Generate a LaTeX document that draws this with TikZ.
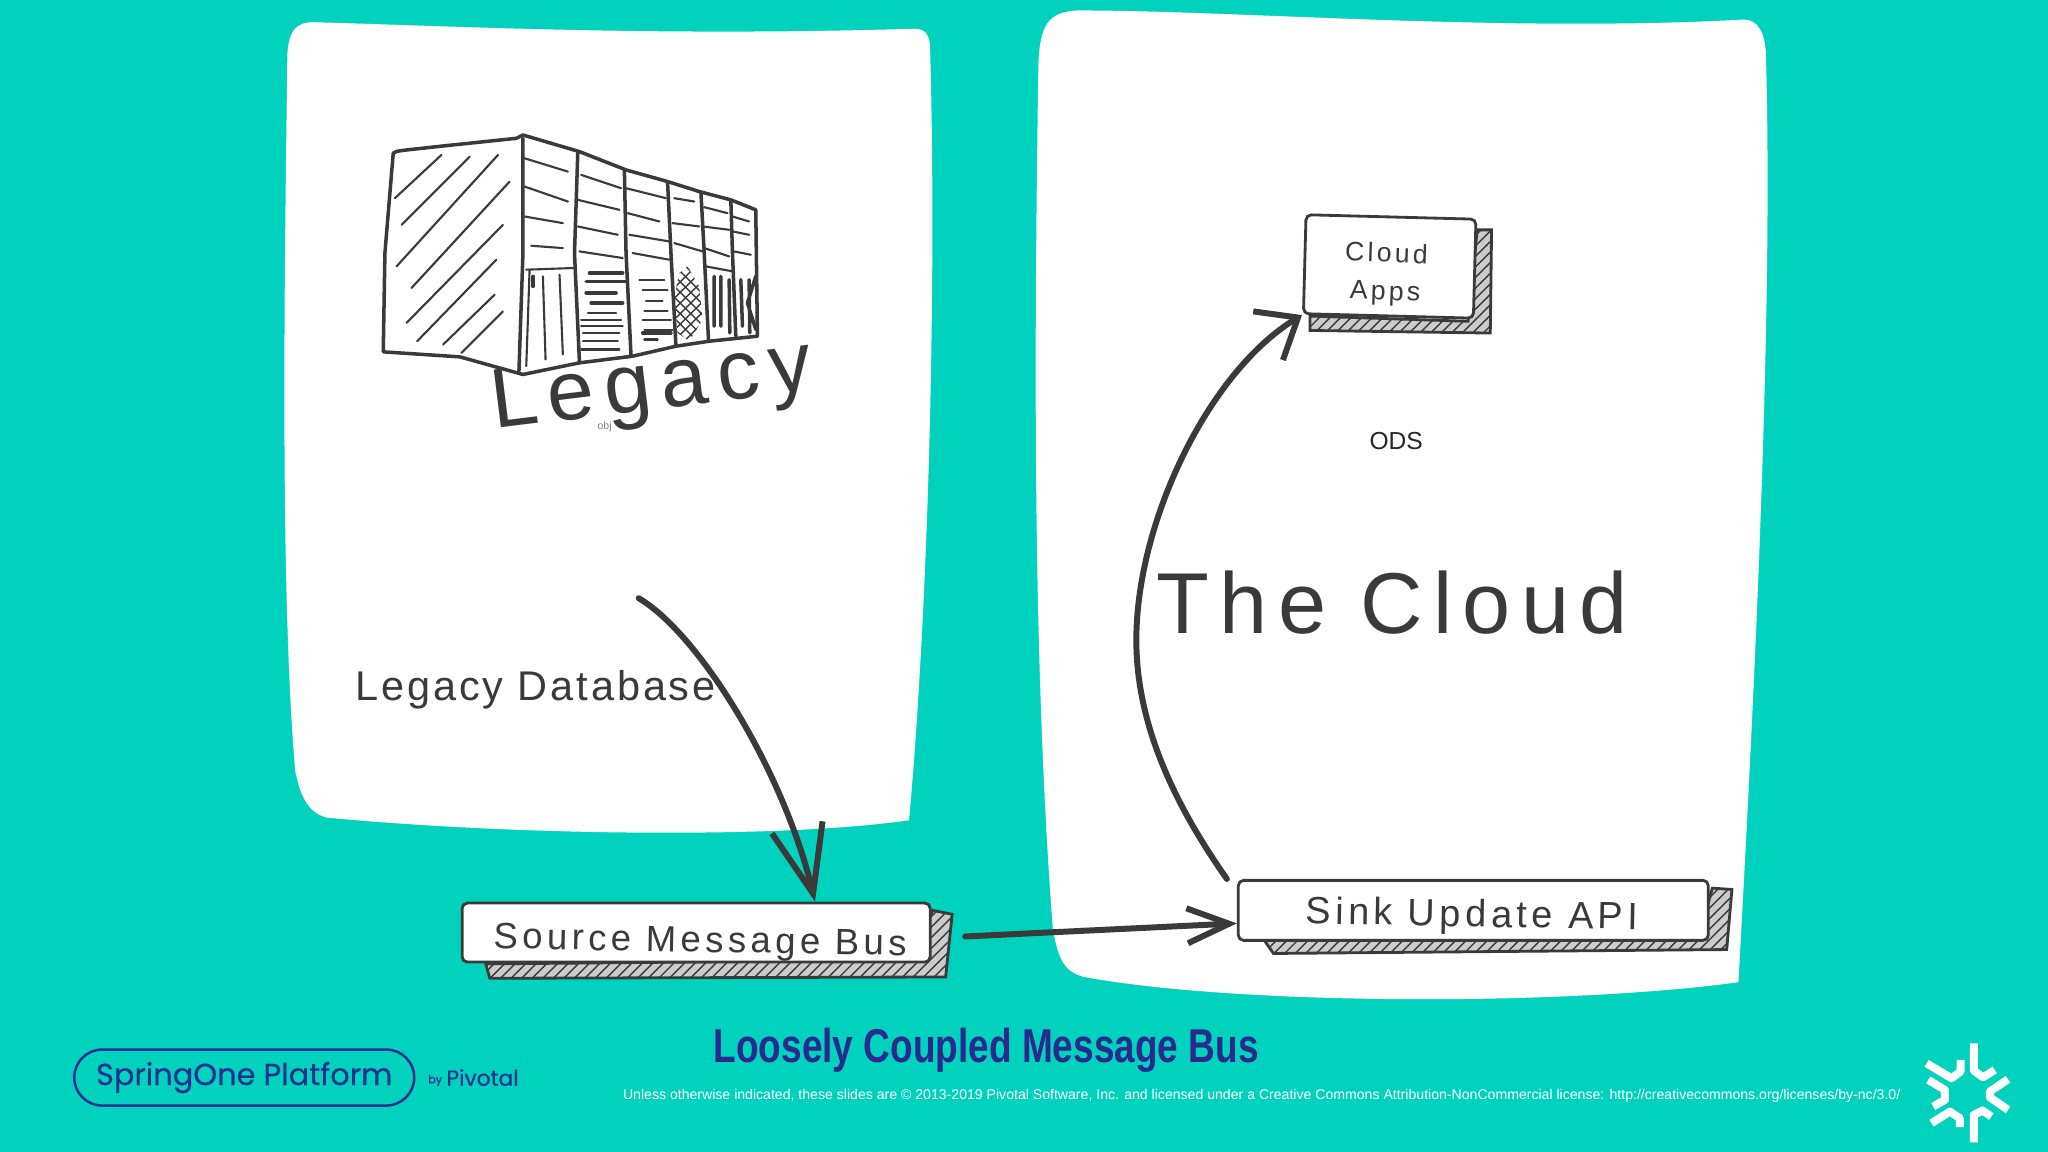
\documentclass[tikz,border=0pt]{standalone}
\usepackage{fontspec}
\setmainfont{Liberation Sans}
\newfontfamily\widefont[LetterSpace=12]{Liberation Sans}
\newfontfamily\midfont[LetterSpace=7]{Liberation Sans}
\newfontfamily\narrowfont[FakeStretch=0.78]{Liberation Sans}
\newfontfamily\brandfont[FakeBold=0.4]{Poppins}
\usetikzlibrary{arrows.meta,patterns,positioning}
\definecolor{tealbg}{HTML}{00D2BE}
\definecolor{inkgray}{HTML}{3A3A3A}
\definecolor{brandblue}{HTML}{22308F}
\definecolor{titleblue}{HTML}{2A2A8E}
\tikzstyle{panel}=[fill=white, draw=none]
\tikzstyle{busbox}=[rectangle, draw=inkgray, fill=white, line width=0.8pt, rounded corners=1.5pt, inner sep=0pt]
\tikzstyle{busshadow}=[draw=inkgray, line width=0.8pt, fill=gray!40, pattern color=inkgray]
\tikzstyle{sketch}=[draw=inkgray, line width=1pt, line cap=round, line join=round]
\tikzstyle{thinsketch}=[draw=inkgray, line width=0.6pt, line cap=round]
\tikzstyle{flow}=[draw=inkgray, line width=1.7pt, line cap=round]
\tikzstyle{snow}=[draw=white, line width=0.08cm, line join=round]
\newcommand{\busbox}{\node[busbox]}
\newcommand{\textlabel}{\node[text=inkgray, inner sep=0pt]}

\begin{document}
\begin{tikzpicture}[x=0.0130612cm, y=-0.0130612cm]
            \useasboundingbox (0,0) rectangle (1568,882);
            \fill[tealbg] (0,0) rectangle (1568,882);

            % the two white sheets
            \path[panel] (220,42) .. controls (221,22) and (228,17) .. (240,17)
                .. controls (350,20) and (500,28) .. (700,22)
                .. controls (708,22) and (711,26) .. (712,34)
                .. controls (717,200) and (712,450) .. (696,628)
                .. controls (600,642) and (400,640) .. (250,626)
                .. controls (236,622) and (230,610) .. (226,590)
                .. controls (214,450) and (218,200) .. (220,42) -- cycle;
            \path[panel] (795,50) .. controls (796,20) and (802,9) .. (825,8)
                .. controls (950,8) and (1150,25) .. (1335,15)
                .. controls (1346,15) and (1351,25) .. (1352,40)
                .. controls (1358,250) and (1342,550) .. (1331,752)
                .. controls (1200,770) and (950,770) .. (830,748)
                .. controls (815,744) and (810,735) .. (806,710)
                .. controls (790,500) and (792,250) .. (795,50) -- cycle;

            % the rack, in the 3x units of a crop at its corner
            \begin{scope}[shift={(275.6,91.9)}, x=0.00333cm, y=-0.00333cm]
                \draw[sketch] (100,100) .. controls (105,92) and (125,92) .. (250,78) -- (470,55) -- (490,45)
                    -- (660,95) -- (800,150) -- (925,185) -- (1020,215) -- (1115,240) -- (1190,270)
                    -- (1195,650) -- (1050,665) -- (950,680) -- (820,710) -- (660,730) -- (490,765)
                    -- (300,712) -- (70,697) -- (75,400) -- cycle;
                \draw[sketch] (490,55) -- (490,400) -- (478,755);
                \draw[sketch] (655,95) -- (645,400) -- (660,730);
                \draw[sketch] (795,150) -- (800,400) -- (815,710);
                \draw[sketch] (925,190) -- (935,400) -- (950,680);
                \draw[sketch] (1025,215) -- (1035,400) -- (1048,665);
                \draw[sketch] (1115,240) -- (1120,400) -- (1130,650);
                % hatching of the end face
                \draw[thinsketch] (245,105) -- (105,235) (330,110) -- (125,315) (415,105) -- (110,440)
                    (450,185) -- (155,505) (430,315) -- (140,610) (410,420) -- (172,665)
                    (405,525) -- (250,675) (430,575) -- (305,700);
                % shelves
                \draw[thinsketch] (495,115) -- (625,155) (495,200) -- (625,245) (495,290) -- (610,310) (515,378) -- (610,385)
                    (665,165) -- (785,205) (655,240) -- (780,270) (655,320) -- (775,345) (660,395) -- (790,415)
                    (800,205) -- (920,235) (805,280) -- (900,305) (810,345) -- (930,365) (820,400) -- (930,420)
                    (945,235) -- (1005,245) (940,310) -- (1020,320) (945,370) -- (1030,395)
                    (1035,262) -- (1105,280) (1030,320) -- (1110,330) (1035,385) -- (1110,410) (1040,440) -- (1120,455)
                    (1120,290) -- (1170,305) (1120,335) -- (1170,345) (1125,395) -- (1175,405)
                    (500,450) -- (640,445);
                % lower fronts
                \draw[sketch] (520,470) -- (520,500);
                \draw[thinsketch] (550,470) -- (558,720) (600,465) -- (610,705) (510,450) -- (500,740);
                \draw[sketch] (690,460) -- (790,460) (680,485) -- (800,485) (680,520) -- (770,520) (695,550) -- (790,550);
                \draw[thinsketch] (685,580) -- (770,580) (665,600) -- (785,600) (665,620) -- (790,620)
                    (670,640) -- (780,640) (670,665) -- (775,665) (665,690) -- (780,690)
                    (840,480) -- (915,480) (850,510) -- (925,510) (860,545) -- (910,545)
                    (855,575) -- (925,575) (850,600) -- (935,600) (855,630) -- (940,630) (855,660) -- (895,660);
                \draw[sketch] (850,640) -- (935,640);
                \path[pattern=crosshatch, pattern color=inkgray] (985,440) -- (1020,500) -- (1030,600) -- (990,665)
                    -- (955,640) -- (945,530) -- (960,460) -- cycle;
                \draw[sketch] (1065,470) -- (1065,620) (1085,470) -- (1085,620) (1110,480) -- (1112,640)
                    (1145,480) -- (1150,620) (1170,480) -- (1172,640) (1190,470) -- (1165,550) -- (1190,630);
            \end{scope}

            % shadows below the boxes
            \path[busshadow, postaction={pattern=north east lines}] (372,738) -- (700,735) -- (714,697) -- (729,700) -- (724,748) -- (375,749) -- cycle;
            \path[busshadow, postaction={pattern=north east lines}] (968,720) -- (1300,720) -- (1311,680) -- (1326,681) -- (1322,727) -- (975,730) -- cycle;
            \path[busshadow, postaction={pattern=north east lines}] (1003,242) -- (1124,246) -- (1131,176) -- (1142,176) -- (1141,255) -- (1003,253) -- cycle;

            \busbox (srcbus) at (533,714) [minimum width=4.68cm, minimum height=0.59cm]{};
            \busbox (sinkbus) at (1128,697) [minimum width=4.70cm, minimum height=0.60cm]{};
            \busbox (apps) at (1064,204) [minimum width=1.70cm, minimum height=0.99cm, rotate=-1.5]{};

            \textlabel (appslabel) at (1061,210) [rotate=-2, align=center, font=\widefont\fontsize{7.6}{10.8}\selectfont]{Cloud\\Apps};
            \textlabel (srclabel) at (536,722) [rotate=-1, font=\widefont\fontsize{10.4}{13}\selectfont]{Source Message Bus};
            \textlabel (sinklabel) at (1127,702) [rotate=-1, font=\widefont\fontsize{10.8}{13}\selectfont]{Sink Update API};

            \node[text=gray, inner sep=0pt, anchor=west, font=\fontsize{3}{4}\selectfont] (objlabel) at (457,327) {obj};
            \textlabel (legacylabel) at (499,298) [rotate=7, font=\widefont\fontsize{24}{26}\selectfont]{Legacy};
            \textlabel (dblabel) at (410,528) [font=\midfont\fontsize{11.8}{13}\selectfont]{Legacy Database};
            \textlabel (cloudlabel) at (1066,461) [font=\widefont\fontsize{24.6}{26}\selectfont]{The Cloud};
            \node[text=black!85, inner sep=0pt, font=\fontsize{7}{8}\selectfont] (odslabel) at (1069,338) {ODS};

            \coordinate (dbtail) at (489,458);

            % connectors
            \path[flow, -{Straight Barb[length=0.68cm,width=0.52cm,line width=1.7pt]}] (dbtail) .. controls (535,485) and (600,590) .. (srcbus.north -| 624,692);
            \path[flow, -{Straight Barb[length=0.42cm,width=0.35cm,line width=1.7pt]}] (739,717) -- ([yshift=-0.13cm]sinkbus.west);
            \path[flow, -{Straight Barb[length=0.35cm,width=0.57cm,line width=1.7pt]}] ([xshift=-0.1cm]sinkbus.north west) .. controls (895,610) and (870,550) .. (870,490)
                .. controls (870,400) and (925,285) .. (apps.south west);

            % bottom strip
            \node[draw=brandblue, line width=0.7pt, rounded corners=0.28cm, minimum width=3.4cm, minimum height=0.56cm,
                inner sep=0pt, text=brandblue] (pill) at (187,825) {\raisebox{-0.3pt}{\brandfont\fontsize{8.65}{10}\selectfont SpringOne Platform}};
            \node[right=0.12cm of pill, yshift=-0.03cm, inner sep=0pt, text=brandblue, font=\brandfont\fontsize{3.2}{4}\selectfont] (bylabel) {by};
            \node[right=0.03cm of bylabel, yshift=0.03cm, inner sep=0pt, text=brandblue, font=\brandfont\fontsize{6.2}{8}\selectfont] (pivotal) {Pivotal};
            \node[inner sep=0pt, text=titleblue, font=\narrowfont\bfseries\fontsize{13.5}{15}\selectfont] (title) at (755,804) {Loosely Coupled Message Bus};
            \node[inner sep=0pt, text=white, font=\fontsize{4.01}{5}\selectfont] (legal) at (966,839)
                {Unless otherwise indicated, these slides are © 2013-2019 Pivotal Software, Inc. and licensed under a Creative Commons Attribution-NonCommercial license: http://creativecommons.org/licenses/by-nc/3.0/};

            % logo
            \begin{scope}[shift={(1424.1,781)}, x=0.00333cm, y=-0.00333cm]
                \draw[snow] (342,70) -- (342,152) -- (370,172) -- (405,150);
                \draw[snow] (445,178) -- (390,215) -- (390,232) -- (445,270);
                \draw[snow] (342,368) -- (342,285) -- (368,272) -- (395,290);
                \draw[snow] (215,310) -- (270,275) -- (300,295) -- (300,322);
                \draw[snow] (205,180) -- (255,210) -- (255,240) -- (220,260);
                \draw[snow] (200,130) -- (275,175) -- (302,155) -- (302,120);
            \end{scope}
        \end{tikzpicture}
\end{document}
